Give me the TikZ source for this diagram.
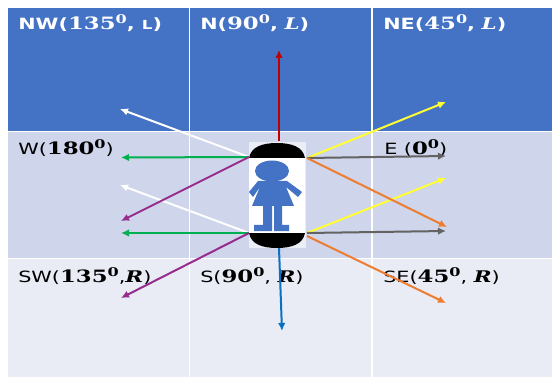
\documentclass[tikz,border=0pt]{standalone}
\usepackage{fontspec}
\setmainfont{DejaVu Sans}
\newfontfamily\numfont{DejaVu Serif}
\usetikzlibrary{arrows.meta, positioning}
\definecolor{headBlue}{HTML}{4472C4}
\definecolor{rowMid}{HTML}{CFD5EA}
\definecolor{rowLow}{HTML}{E9EBF5}
\definecolor{rayRed}{HTML}{C00000}
\definecolor{rayGreen}{HTML}{00B050}
\definecolor{rayPurple}{HTML}{962C8C}
\definecolor{rayYellow}{HTML}{FFFF33}
\definecolor{rayGray}{HTML}{636363}
\definecolor{rayOrange}{HTML}{ED7D31}
\definecolor{rayBlue}{HTML}{0A70C0}
\newcommand{\dirnum}[1]{{\fontsize{17}{19}\selectfont\numfont\bfseries #1}}
\newcommand{\dirdeg}{\raisebox{6pt}{\fontsize{12}{12}\selectfont\numfont\bfseries 0}}
\newcommand{\dirside}[1]{{\fontsize{16}{18}\selectfont\numfont\bfseries\itshape #1}}
\tikzset{
  dirlabel/.style={anchor=base west, inner sep=0pt, xscale=1.34, font=\fontsize{15.5}{17}\selectfont},
  ray/.style={-{Latex[length=8pt,width=7.5pt]}, line width=2pt},
  gridline/.style={white, line width=1.8pt}
}

\begin{document}
\begin{tikzpicture}[x=1pt, y=-1pt]
    \useasboundingbox (0, 0) rectangle (552, 377);

    % Rows
    \fill[headBlue] (8, 8) rectangle (552, 131);
    \fill[rowMid] (8, 131) rectangle (552, 258);
    \fill[rowLow] (8, 258) rectangle (552, 377);
    \draw[gridline] (8, 131.5) -- (552, 131.5);
    \draw[white, line width=0.8pt] (8, 258) -- (552, 258);
    \draw[gridline] (189.5, 8) -- (189.5, 377);
    \draw[gridline] (372, 8) -- (372, 377);

    % Labels
    \node[dirlabel, white] (lblNW) at (18, 30) {\textbf{NW(}\dirnum{135}\dirdeg\textbf{, {\fontsize{12.5}{14}\selectfont L})}};
    \node[dirlabel, white] (lblN) at (200, 30) {\textbf{N(}\dirnum{90}\dirdeg\textbf{,} \dirside{L}\textbf{)}};
    \node[dirlabel, white] (lblNE) at (383, 30) {\textbf{NE(}\dirnum{45}\dirdeg\textbf{,} \dirside{L}\textbf{)}};
    \node[dirlabel] (lblW) at (18, 155) {W(\dirnum{180}\dirdeg)};
    \node[dirlabel] (lblE) at (384, 155) {E (\dirnum{0}\dirdeg)};
    \node[dirlabel] (lblSW) at (18, 282) {SW(\dirnum{135}\dirdeg,\dirside{R})};
    \node[dirlabel] (lblS) at (200, 282) {S(\dirnum{90}\dirdeg, \dirside{R})};
    \node[dirlabel] (lblSE) at (383, 282) {SE(\dirnum{45}\dirdeg, \dirside{R})};

    % Figure
    \fill[white, opacity=0.6] (249, 142) rectangle (306, 248);
    \fill[white] (249, 158) rectangle (305, 233);
    \fill[black] (249, 158) .. controls (251, 147) and (262, 143) .. (277, 143)
      .. controls (292, 143) and (303, 147) .. (305, 158) -- cycle;
    \fill[black] (249, 233) .. controls (251, 244) and (262, 248) .. (277, 248)
      .. controls (292, 248) and (303, 244) .. (305, 233) -- cycle;
    \fill[headBlue] (272, 171) ellipse (17 and 10.5);
    \fill[headBlue] (258, 181) -- (287, 181) -- (302, 192) -- (298, 197) -- (286, 187)
      -- (294, 206) -- (252, 206) -- (260, 187) -- (253, 197) -- (249, 192) -- cycle;
    \fill[headBlue] (263, 206) -- (272, 206) -- (272, 231) -- (254, 231) -- (254, 225) -- (263, 225) -- cycle;
    \fill[headBlue] (274, 206) -- (282, 206) -- (282, 225) -- (289, 225) -- (289, 231) -- (274, 231) -- cycle;

    % Ray ends
    \coordinate (topL) at (249, 157);
    \coordinate (lowL) at (249, 233);
    \coordinate (topR) at (307, 158);
    \coordinate (lowR) at (307, 233);
    \coordinate (lowRb) at (307, 236);
    \coordinate (headTop) at (279, 141);
    \coordinate (feetLow) at (279, 248);

    % Rays
    \draw[ray, white] (topL) -- (120, 109);
    \draw[ray, white] (lowL) -- (120, 185);
    \draw[ray, rayGreen] (topL) -- (121, 157.5);
    \draw[ray, rayGreen] (lowL) -- (121, 233);
    \draw[ray, rayPurple] (topL) -- (121, 221);
    \draw[ray, rayPurple] (lowL) -- (121, 298);
    \draw[ray, rayRed] (headTop) -- (279, 50);
    \draw[ray, rayBlue] (feetLow) -- (282, 331);
    \draw[ray, rayYellow] (topR) -- (446, 102);
    \draw[ray, rayYellow] (lowR) -- (446, 178);
    \draw[ray, rayGray] (topR) -- (446, 156);
    \draw[ray, rayGray] (lowR) -- (446, 231);
    \draw[ray, rayOrange] (topR) -- (447, 227);
    \draw[ray, rayOrange] (lowRb) -- (446, 303);
\end{tikzpicture}
\end{document}
